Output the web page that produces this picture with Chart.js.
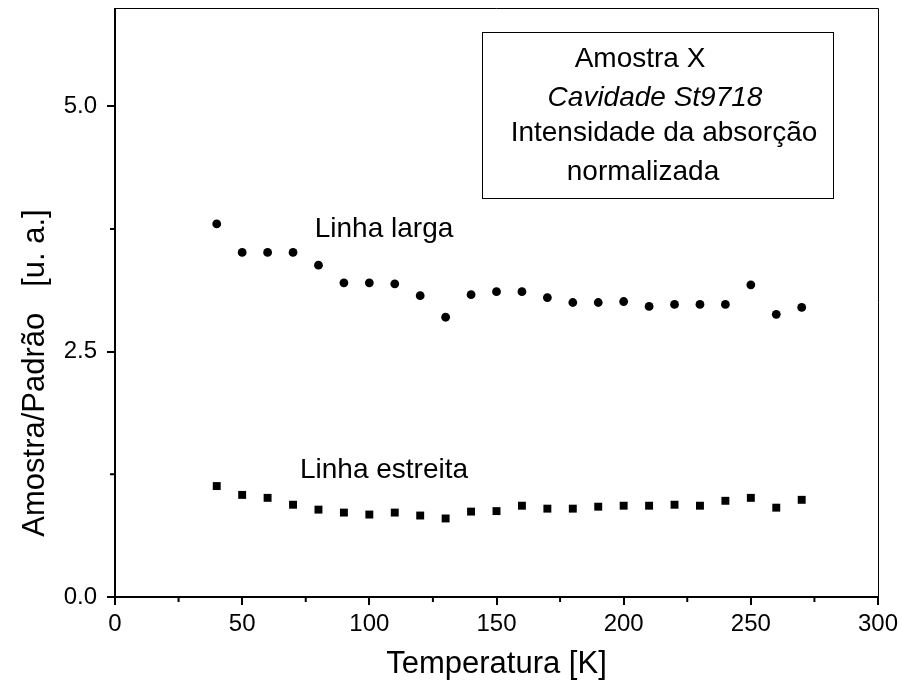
<!DOCTYPE html>
<html>
<head>
<meta charset="utf-8">
<title>Amostra/Padrão vs Temperatura</title>
<script src="https://cdn.jsdelivr.net/npm/chart.js@4"></script>
<style>
  html, body { margin: 0; padding: 0; background: #fff; }
  #wrap { width: 902px; height: 690px; position: relative; }
</style>
</head>
<body>
<div id="wrap"><canvas id="chart"></canvas></div>
<script>
// temperatures (K)
const temps = [40, 50, 60, 70, 80, 90, 100, 110, 120, 130, 140, 150, 160, 170, 180, 190, 200, 210, 220, 230, 240, 250, 260, 270];
// broad line (circles)
const linhaLarga = [3.80, 3.51, 3.51, 3.51, 3.38, 3.20, 3.20, 3.19, 3.07, 2.85, 3.08, 3.11, 3.11, 3.05, 3.00, 3.00, 3.01, 2.96, 2.98, 2.98, 2.98, 3.18, 2.88, 2.95];
// narrow line (squares)
const linhaEstreita = [1.13, 1.04, 1.01, 0.94, 0.89, 0.86, 0.84, 0.86, 0.83, 0.80, 0.87, 0.875, 0.93, 0.90, 0.90, 0.92, 0.93, 0.93, 0.94, 0.93, 0.98, 1.01, 0.91, 0.99];

const xTicks = [0, 50, 100, 150, 200, 250, 300];
const xMinor = [25, 75, 125, 175, 225, 275];
const yTicks = [0, 2.5, 5.0];
const yMinor = [1.25, 3.75];

const xTitle = 'Temperatura [K]';
const yTitle = 'Amostra/Padrão   [u. a.]';
const boxLines = ['Amostra X', 'Cavidade St9718', 'Intensidade da absorção', 'normalizada'];

const FONT = 'Arial, "Liberation Sans", sans-serif';

const toPoints = (ys) => temps.map((t, i) => ({ x: t, y: ys[i] }));

const decor = {
  id: 'decor',
  afterDraw(chart) {
    const { ctx, chartArea: a, scales } = chart;
    const xs = scales.x, ys = scales.y;
    ctx.save();
    // frame: thin top/right, thick left/bottom
    ctx.strokeStyle = '#000';
    ctx.lineWidth = 1;
    ctx.beginPath();
    ctx.moveTo(a.left, a.top + 0.5);
    ctx.lineTo(a.right + 0.5, a.top + 0.5);
    ctx.lineTo(a.right + 0.5, a.bottom);
    ctx.stroke();
    ctx.lineWidth = 2;
    ctx.beginPath();
    ctx.moveTo(a.left, a.top);
    ctx.lineTo(a.left, a.bottom);
    ctx.lineTo(a.right + 1, a.bottom);
    ctx.stroke();
    // minor ticks
    ctx.beginPath();
    xMinor.forEach(v => {
      const px = xs.getPixelForValue(v);
      ctx.moveTo(px, a.bottom);
      ctx.lineTo(px, a.bottom + 5);
    });
    yMinor.forEach(v => {
      const py = ys.getPixelForValue(v);
      ctx.moveTo(a.left, py);
      ctx.lineTo(a.left - 5, py);
    });
    ctx.stroke();

    ctx.fillStyle = '#000';
    ctx.textAlign = 'center';
    ctx.textBaseline = 'alphabetic';

    // axis titles
    ctx.font = '31px ' + FONT;
    ctx.fillText(xTitle, (a.left + a.right) / 2, 673);
    ctx.save();
    ctx.translate(44, 373);
    ctx.rotate(-Math.PI / 2);
    ctx.font = '31px ' + FONT;
    ctx.fillText(yTitle, 0, 0);
    ctx.restore();

    // annotations
    ctx.font = '28px ' + FONT;
    ctx.fillText('Linha larga', 384, 237);
    ctx.fillText('Linha estreita', 384, 478);

    // info box
    ctx.lineWidth = 1;
    ctx.strokeRect(482.5, 32.5, 351, 166);
    ctx.font = '28px ' + FONT;
    ctx.fillText(boxLines[0], 640, 67);
    ctx.font = 'italic 28px ' + FONT;
    ctx.fillText(boxLines[1], 655, 106);
    ctx.font = '28px ' + FONT;
    ctx.fillText(boxLines[2], 664, 141);
    ctx.fillText(boxLines[3], 643, 180);
    ctx.restore();
  }
};

new Chart(document.getElementById('chart'), {
  type: 'scatter',
  data: {
    datasets: [
      {
        label: 'Linha larga',
        data: toPoints(linhaLarga),
        pointStyle: 'circle',
        pointRadius: 4.4,
        backgroundColor: '#000',
        borderColor: '#000',
        borderWidth: 0
      },
      {
        label: 'Linha estreita',
        data: toPoints(linhaEstreita),
        pointStyle: 'rect',
        pointRadius: 5.6,
        backgroundColor: '#000',
        borderColor: '#000',
        borderWidth: 0
      }
    ]
  },
  options: {
    responsive: true,
    maintainAspectRatio: false,
    animation: false,
    layout: { padding: { left: 0, top: 8, right: 24, bottom: 0 } },
    plugins: {
      legend: { display: false },
      tooltip: { enabled: false }
    },
    scales: {
      x: {
        type: 'linear',
        min: 0,
        max: 300,
        afterBuildTicks: (s) => { s.ticks = xTicks.map(v => ({ value: v })); },
        afterFit: (s) => { s.height = 93; s.paddingLeft = 0; s.paddingRight = 0; },
        border: { display: false },
        grid: { display: true, drawOnChartArea: false, drawTicks: true, tickLength: 8, color: '#000', lineWidth: 2 },
        ticks: { color: '#000', font: { family: FONT, size: 24 }, padding: 5, maxRotation: 0 }
      },
      y: {
        type: 'linear',
        min: 0,
        max: 6,
        afterBuildTicks: (s) => { s.ticks = yTicks.map(v => ({ value: v })); },
        afterFit: (s) => { s.width = 115; s.paddingTop = 0; s.paddingBottom = 0; },
        border: { display: false },
        grid: { display: true, drawOnChartArea: false, drawTicks: true, tickLength: 8, color: '#000', lineWidth: 2 },
        ticks: { color: '#000', font: { family: FONT, size: 24 }, padding: 10, callback: (v) => Number(v).toFixed(1) }
      }
    }
  },
  plugins: [decor]
});
</script>
</body>
</html>
